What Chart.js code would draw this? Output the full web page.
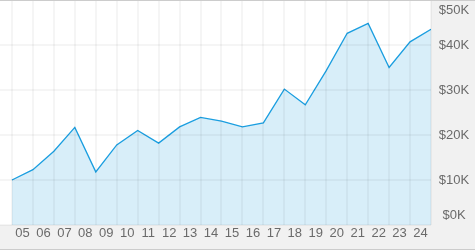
<!DOCTYPE html>
<html>
<head>
<meta charset="utf-8">
<script src="https://cdn.jsdelivr.net/npm/chart.js@4"></script>
<style>
  html, body { margin: 0; padding: 0; background: #f1f1f1; }
  #wrap { width: 475px; height: 250px; position: relative; }
</style>
</head>
<body>
<div id="wrap"><canvas id="areaChart"></canvas></div>
<script>
"use strict"
// Data
const years = ["05", "06", "07", "08", "09", "10", "11", "12", "13", "14",
               "15", "16", "17", "18", "19", "20", "21", "22", "23", "24"];
const values = [10000, 12300, 16400, 21700, 11800, 17800, 21000, 18200, 21800, 23900,
                23100, 21800, 22700, 30200, 26700, 34300, 42600, 44800, 35000, 40700, 43500];
const yTicks = [0, 10000, 20000, 30000, 40000, 50000];
const yLabels = ["$0K", "$10K", "$20K", "$30K", "$40K", "$50K"];

const FONT = "'Liberation Sans', Arial, sans-serif";

// Grå bakgrund runt ritytan, vita rutan inuti, och y-etiketter
const framePlugin = {
    id: "frame",
    beforeDraw(chart) {
        const ctx = chart.ctx;
        const a = chart.chartArea;
        ctx.save();
        ctx.fillStyle = "#f1f1f1";
        ctx.fillRect(0, 0, chart.width, chart.height);
        ctx.fillStyle = "#ffffff";
        ctx.fillRect(a.left, a.top, a.right - a.left, a.bottom - a.top);
        ctx.restore();
    },
    afterDraw(chart) {
        const ctx = chart.ctx;
        const a = chart.chartArea;
        const y = chart.scales.y;
        ctx.save();
        ctx.font = "13px " + FONT;
        ctx.fillStyle = "#6a6a6a";
        ctx.textAlign = "center";
        ctx.textBaseline = "middle";
        yTicks.forEach((v, i) => {
            let py = y.getPixelForValue(v);
            py = Math.min(Math.max(py, a.top + 10), a.bottom - 10);
            ctx.fillText(yLabels[i], (a.right + chart.width) / 2 + 1, py);
        });
        ctx.fillStyle = "#cccccc";
        ctx.fillRect(0, 0, chart.width, 1);
        ctx.fillRect(0, chart.height - 1, chart.width, 1);
        ctx.restore();
    }
};

const ctx = document.getElementById("areaChart");
new Chart(ctx, {
    type: "line",
    data: {
        datasets: [{
            data: values.map((v, i) => ({ x: i, y: v })),
            borderColor: "#1a9ee0",
            borderWidth: 1.3,
            backgroundColor: "#d8eef9",
            fill: "origin",
            tension: 0,
            pointRadius: 0
        }]
    },
    options: {
        responsive: true,
        maintainAspectRatio: false,
        animation: false,
        layout: { padding: 0 },
        plugins: {
            legend: { display: false },
            tooltip: { enabled: false }
        },
        scales: {
            x: {
                type: "linear",
                min: -12 / 21,
                max: 20,
                afterBuildTicks: (scale) => {
                    scale.ticks = years.map((_, i) => ({ value: i })).concat([{ value: 20 }]);
                },
                afterFit: (scale) => { scale.height = 25; },
                grid: { color: "rgba(0,0,0,0.04)", lineWidth: 2, drawTicks: false, z: 1 },
                border: { display: false },
                ticks: {
                    autoSkip: false,
                    maxRotation: 0,
                    padding: 1,
                    labelOffset: 10.5,
                    color: "#6a6a6a",
                    font: { family: FONT, size: 13 },
                    callback: (value) => years[value] || ""
                }
            },
            y: {
                position: "right",
                min: 0,
                max: 50000,
                afterBuildTicks: (scale) => {
                    scale.ticks = yTicks.map(v => ({ value: v }));
                },
                afterFit: (scale) => { scale.width = 44; },
                grid: { color: "rgba(0,0,0,0.04)", lineWidth: 2, drawTicks: false, z: 1 },
                border: { display: false },
                ticks: { display: false }
            }
        }
    },
    plugins: [framePlugin]
});
</script>
</body>
</html>
